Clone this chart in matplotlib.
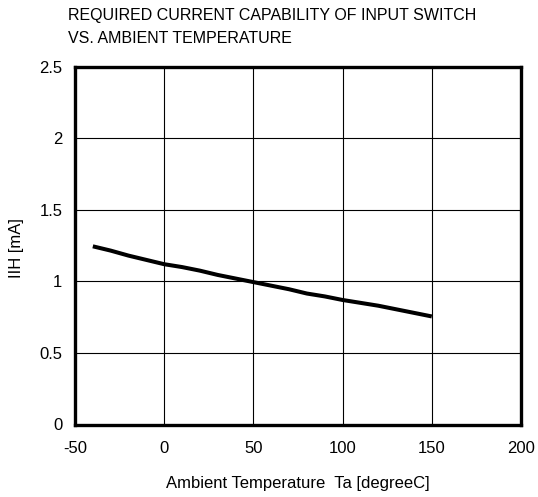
import matplotlib
matplotlib.use("Agg")
import matplotlib.pyplot as plt

plt.rcParams['font.family'] = ['Liberation Sans', 'DejaVu Sans']

temp = [-40, -30, -20, -10, 0, 10, 20, 30, 40, 50, 60, 70, 80, 90, 100, 110, 120, 130, 140, 150]
iih = [1.245, 1.215, 1.18, 1.15, 1.12, 1.10, 1.075, 1.045, 1.02, 0.995, 0.97, 0.945, 0.915, 0.895,
       0.87, 0.85, 0.83, 0.805, 0.78, 0.755]
xticks = [-50, 0, 50, 100, 150, 200]
yticks = [0, 0.5, 1, 1.5, 2, 2.5]
ytick_labels = ["0", "0.5", "1", "1.5", "2", "2.5"]

W, H = 538, 497
fig = plt.figure(figsize=(W / 100, H / 100), dpi=100)
left, right, top, bottom = 75, 521, 66.7, 424.5
ax = fig.add_axes([left / W, 1 - bottom / H, (right - left) / W, (bottom - top) / H])
ax.plot(temp, iih, color='black', linewidth=2.9, solid_capstyle='butt')
ax.set_xlim(-50, 200)
ax.set_ylim(0, 2.5)
ax.set_xticks(xticks)
ax.set_xticklabels([str(t) for t in xticks])
ax.set_yticks(yticks)
ax.set_yticklabels(ytick_labels)
ax.grid(True, color='black', linewidth=0.8)
ax.tick_params(length=0, labelsize=12)
ax.tick_params(axis='x', pad=12)
ax.tick_params(axis='y', pad=9)
for s in ax.spines.values():
    s.set_linewidth(2.4)
    s.set_color('black')
ax.set_xlabel("Ambient Temperature  Ta [degreeC]", fontsize=12, labelpad=14)
ax.set_ylabel("IIH [mA]", fontsize=12)
ax.yaxis.set_label_coords(24 / W, 0.5, transform=fig.transFigure)

fig.text(68 / W, 1 - 20 / H, "REQUIRED CURRENT CAPABILITY OF INPUT SWITCH", fontsize=11.5,
         va='baseline', ha='left')
fig.text(68 / W, 1 - 43.3 / H, "VS. AMBIENT TEMPERATURE", fontsize=11.5, va='baseline', ha='left')

fig.savefig("out.png", dpi=100)
